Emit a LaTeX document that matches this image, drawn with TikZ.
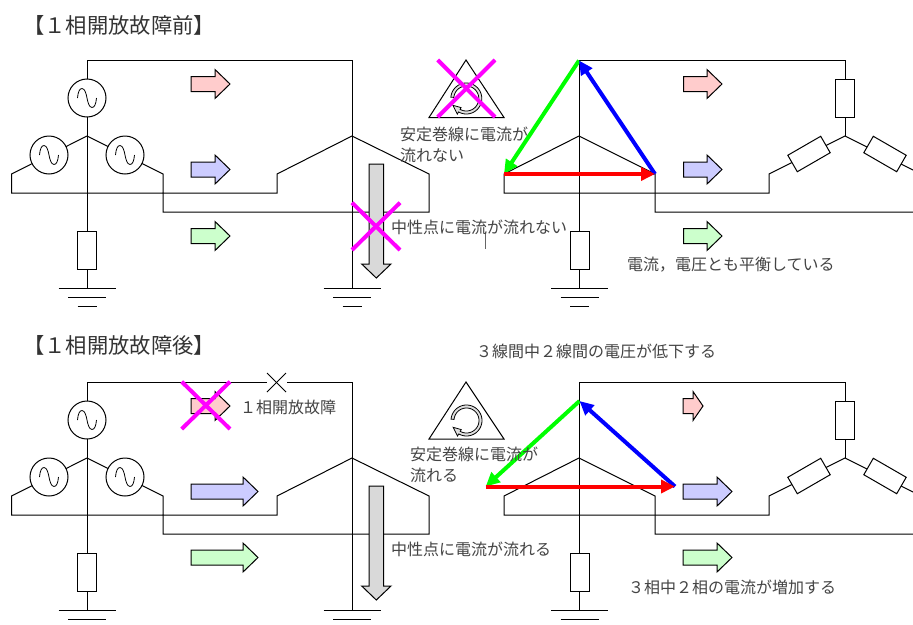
\documentclass[tikz,border=0pt]{standalone}
\usepackage{fontspec}
\setmainfont{Noto Sans CJK JP}
\usetikzlibrary{calc,arrows.meta}
\definecolor{txt}{HTML}{444444}
\definecolor{bred}{HTML}{FFCCCC}
\definecolor{bblue}{HTML}{CCCCFF}
\definecolor{bgreen}{HTML}{CCFFCC}
\definecolor{pink}{HTML}{FF00FF}
\definecolor{vred}{HTML}{FF0000}
\definecolor{vgreen}{HTML}{00FF00}
\definecolor{vblue}{HTML}{0000FF}
\tikzset{
 wire/.style={draw=black,line width=1pt,line join=miter},
 src/.style={circle,draw=black,fill=white,line width=1pt,minimum size=38pt,inner sep=0pt},
 res/.style={rectangle,draw=black,fill=white,line width=1pt,minimum width=19pt,minimum height=38pt,inner sep=0pt},
 lab/.style={anchor=west,text=txt,font=\fontsize{16pt}{21pt}\selectfont,inner sep=0pt,align=left},
 ttl/.style={anchor=west,text=black!80,font=\fontsize{21.3pt}{24pt}\selectfont,inner sep=0pt},
 cross/.style={draw=pink,line width=4pt},
 vecr/.style={draw=vred,line width=4pt,-{Triangle[length=14pt,width=13pt]}},
 vecg/.style={draw=vgreen,line width=4pt,-{Triangle[length=14pt,width=13pt]}},
 vecb/.style={draw=vblue,line width=4pt,-{Triangle[length=14pt,width=13pt]}},
 blk/.style={draw=black,line width=1pt,line join=miter}
}
% block arrow to the right: fill, x-left, x-head, x-tip, y
\newcommand{\rarrow}[5]{\draw[blk,fill=#1] (#2,#5-7.5) -- (#3,#5-7.5) -- (#3,#5-14.5) -- (#4,#5) -- (#3,#5+14.5) -- (#3,#5+7.5) -- (#2,#5+7.5) -- cycle;}
% grey down arrow: y-top, y-head, y-tip
\newcommand{\darrow}[3]{\draw[blk,fill=black!15] (369,#1) -- (383.7,#1) -- (383.7,#2) -- (391,#2) -- (376.3,#3) -- (361.7,#2) -- (369,#2) -- cycle;}
\newcommand{\sine}[2]{\begin{scope}[shift={(#1,#2)}]\draw[line width=.8pt] (-9.5,0) .. controls (-9,-6) and (-7.5,-9.5) .. (-5,-9.5) .. controls (-2,-9.5) and (-0.8,-4) .. (0,0) .. controls (0.8,4) and (2,9.5) .. (5,9.5) .. controls (7.5,9.5) and (9,6) .. (9.5,0);\end{scope}}
\newcommand{\grnd}[2]{%
 \draw[wire] (#1-28.5,#2) -- (#1+28.5,#2);
 \draw[wire] (#1-19,#2+9) -- (#1+19,#2+9);
 \draw[wire] (#1-9.5,#2+18) -- (#1+9.5,#2+18);}
% looped block arrow about a centre
\newcommand{\loopy}[2]{%
 \begin{scope}[shift={(#1,#2)}]
 \draw[line width=.8pt,fill=black!12,line join=miter]
   plot[domain=185:480,samples=50,smooth] ({15.5*cos(\x)},{15.5*sin(\x)})
   -- ({18*cos(120)},{18*sin(120)}) -- ({15*cos(153)},{15*sin(153)}) -- ({10.5*cos(120)},{10.5*sin(120)})
   -- plot[domain=480:185,samples=50,smooth] ({12.5*cos(\x)},{12.5*sin(\x)}) -- cycle;
 \end{scope}}
% whole circuit; #1 prefix, #2 vertical shift
\newcommand{\circuit}[2]{%
\begin{scope}[shift={(0,#2)}]
 \coordinate (#1n) at (87,136);
 \coordinate (#1top) at (87,60.5);
 \coordinate (#1ctop) at (352,60.5);
 \coordinate (#1cn) at (352,136);
 \coordinate (#1g) at (87,288);
 \coordinate (#1cg) at (352,288);
 \coordinate (#1rn) at (579,136);
 \coordinate (#1rtop) at (579,60.5);
 \coordinate (#1rg) at (579,288);
 \coordinate (#1ln) at (845,136);
 \coordinate (#1ltop) at (845,60.5);
 \coordinate (#1far) at (921,174);
 \draw[wire] (#1g) -- (#1top) -- (#1ctop) -- (#1cg);
 \draw[wire] (#1rtop) -- (#1rg);
 \draw[wire] (#1n) -- (11.5,174) -- (11.5,193) -- (277,193) -- (277,174) -- (#1cn) -- (429,174) -- (429,212) -- (163,212) -- (163,174) -- (#1n);
 \draw[wire] (#1rn) -- (504,174) -- (504,193) -- (769,193) -- (769,174) -- (#1ln) -- (#1far);
 \draw[wire] (#1rn) -- (655,174) -- (655,212) -- (913,212);
 \draw[wire] (#1rtop) -- (#1ltop) -- (#1ln);
 \node[src] (#1sa) at (87,98) {}; \sine{87}{98}
 \node[src] (#1sb) at (49,155) {}; \sine{49}{155}
 \node[src] (#1sc) at (125,155) {}; \sine{125}{155}
 \node[res] (#1ra) at (87,250) {};
 \node[res] (#1rb) at (579.5,250) {};
 \node[res] (#1rc) at (845,98) {};
 \node[res,rotate=-60] (#1rd) at (809,154) {};
 \node[res,rotate=60] (#1re) at (885,154) {};
 \grnd{87}{288}
 \grnd{352}{288}
 \grnd{579.5}{288}
\end{scope}}
\begin{document}
\begin{tikzpicture}[x=1pt,y=-1pt]
\clip (0,0) rectangle (913,624);
\fill[white] (0,0) rectangle (913,624);
\circuit{a}{0}
\circuit{b}{322}
% fault gap in the lower circuit
\fill[white] (267,380) rectangle (287,385);
\node[minimum size=0pt,inner sep=0pt] (fault) at (276.5,382.5) {};
\draw[line width=.8pt] ($(fault)+(-9.5,-9.5)$) -- ($(fault)+(9.5,9.5)$);
\draw[line width=.8pt] ($(fault)+(-9.5,9.5)$) -- ($(fault)+(9.5,-9.5)$);
% block arrows, upper
\rarrow{bred}{191}{215}{230}{84}
\rarrow{bblue}{191}{215}{230}{169.5}
\rarrow{bgreen}{191}{215}{230}{236}
\rarrow{bred}{683.5}{707}{722}{84}
\rarrow{bblue}{683.5}{707}{722}{169.5}
\rarrow{bgreen}{683.5}{707}{722}{236}
\darrow{164}{264}{278}
% block arrows, lower
\rarrow{bred}{191}{215}{230}{406}
\rarrow{bblue}{191}{243}{258}{491.5}
\rarrow{bgreen}{191}{243}{258}{557.5}
\rarrow{bred}{683}{693}{703}{406}
\rarrow{bblue}{683}{717}{732}{491.5}
\rarrow{bgreen}{683}{717}{732}{557.5}
\darrow{486}{586}{600}
% delta triangles
\draw[wire] (466,60) -- (504,117.5) -- (429,117.5) -- cycle;
\draw[wire] (466,382) -- (504,439) -- (429,439) -- cycle;
\loopy{466.3}{98.5}
\loopy{466.5}{420.5}
% vector triangles, upper
\coordinate (va) at (579,60.5); \coordinate (vl) at (504,174); \coordinate (vr) at (655,174);
\draw[vecg] (va) -- (vl);
\draw[vecb] (vr) -- (va);
\draw[vecr] (vl) -- (vr);
% vector triangles, lower
\coordinate (wa) at (579.5,401); \coordinate (wl) at (485.7,486.5); \coordinate (wr) at (675,486.5);
\draw[vecg] (wa) -- (wl);
\draw[vecb] (wr) -- (wa);
\draw[vecr] (wl) -- (wr);
% crosses
\draw[cross] (437.7,60) -- (495,117); \draw[cross] (437.7,117) -- (495,60);
\draw[cross] (352,202.7) -- (400,250); \draw[cross] (352,250) -- (400,202.7);
\draw[cross] (181.7,381.7) -- (230,429); \draw[cross] (181.7,429) -- (230,381.7);
% tick
\draw[line width=1pt,draw=black!60] (485,231.7) -- (485,249);
% texts
\node[ttl] (t1) at (23,25) {【１相開放故障前】};
\node[ttl] (t2) at (23,345) {【１相開放故障後】};
\node[lab] (l1) at (400,144.5) {安定巻線に電流が\\流れない};
\node[lab] (l2) at (391,227) {中性点に電流が流れない};
\node[lab] (l3) at (627,265) {電流，電圧とも平衡している};
\node[lab] (l4) at (240,407) {１相開放故障};
\node[lab] (l5) at (476,351) {３線間中２線間の電圧が低下する};
\node[lab] (l6) at (410,464.5) {安定巻線に電流が\\流れる};
\node[lab] (l7) at (391,549) {中性点に電流が流れる};
\node[lab] (l8) at (628,587) {３相中２相の電流が増加する};
\end{tikzpicture}
\end{document}
